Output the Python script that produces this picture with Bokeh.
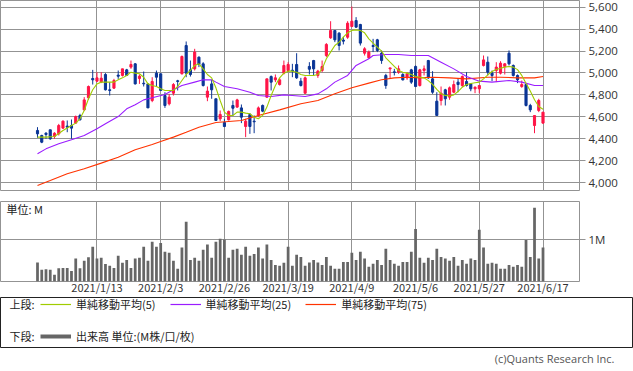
from bokeh.plotting import figure
from bokeh.layouts import column
from bokeh.models import (Range1d, LinearAxis, FixedTicker, Grid, NumeralTickFormatter,
                          Label, Legend, LegendItem, ColumnDataSource, Title)
from bokeh.embed import file_html
from bokeh.resources import INLINE

# ---------------- data ----------------
tick_idx = [14, 29, 44, 59, 74, 89, 104, 119]
tick_labels = ["2021/1/13", "2021/2/3", "2021/2/26", "2021/3/19",
               "2021/4/9", "2021/5/6", "2021/5/27", "2021/6/17"]
price_ticks = [4000, 4200, 4400, 4600, 4800, 5000, 5200, 5400, 5600]

opens = [4475, 4429, 4450, 4481, 4420, 4444, 4496, 4515, 4520, 4542,
         4611, 4663, 4773, 4949, 4925, 4916, 4986, 4846, 4861, 4980,
         4977, 5028, 5053, 5083, 4949, 4906, 4900, 4748, 4998, 4992,
         4794, 4718, 4815, 4928, 4992, 5250, 5028, 5037, 5144, 5083,
         4779, 4900, 4764, 4581, 4548, 4572, 4703, 4688, 4681, 4511,
         4621, 4560, 4612, 4703, 4779, 4967, 4937, 4894, 4998, 5022,
         5025, 5077, 4925, 4815, 5059, 5113, 4977, 5022, 5159, 5320,
         5387, 5363, 5300, 5326, 5424, 5478, 5442, 5180, 5138, 5250,
         5302, 5180, 4977, 5037, 5010, 5007, 4986, 4955, 5028, 5059,
         4885, 5022, 5113, 4946, 4742, 4748, 4846, 4779, 4824, 4916,
         4885, 4922, 4900, 4855, 4855, 5068, 5098, 4998, 5022, 4998,
         5059, 5180, 5068, 4977, 4876, 4894, 4703, 4520, 4657, 4542]
highs = [4505, 4436, 4459, 4481, 4459, 4535, 4566, 4566, 4575, 4611,
         4627, 4779, 4885, 5028, 5007, 5007, 4998, 4916, 4946, 5022,
         5037, 5037, 5113, 5089, 4986, 5013, 4900, 4961, 5022, 4992,
         4824, 4809, 4907, 4937, 5159, 5287, 5113, 5220, 5150, 5098,
         4876, 4937, 4764, 4657, 4581, 4657, 4748, 4764, 4712, 4581,
         4633, 4612, 4694, 4712, 4946, 4977, 4986, 4955, 5113, 5098,
         5083, 5180, 4955, 4967, 5098, 5119, 5028, 5113, 5272, 5472,
         5387, 5372, 5330, 5472, 5606, 5509, 5448, 5235, 5205, 5311,
         5311, 5205, 4992, 5046, 5037, 5068, 4998, 5007, 5037, 5068,
         5037, 5068, 5119, 5016, 4824, 4876, 4855, 4876, 4931, 4946,
         4977, 5007, 4907, 4876, 4885, 5159, 5150, 5022, 5098, 5107,
         5089, 5205, 5077, 4986, 4931, 4900, 4718, 4611, 4764, 4642]
lows = [4408, 4359, 4399, 4390, 4399, 4429, 4490, 4459, 4399, 4535,
        4566, 4657, 4754, 4894, 4916, 4907, 4840, 4794, 4855, 4946,
        4967, 4977, 5037, 4894, 4900, 4876, 4681, 4733, 4876, 4840,
        4681, 4703, 4794, 4840, 4986, 4961, 4967, 5022, 5053, 4876,
        4742, 4764, 4566, 4560, 4505, 4566, 4611, 4681, 4542, 4414,
        4444, 4450, 4596, 4642, 4773, 4840, 4916, 4885, 4986, 5007,
        4961, 4946, 4876, 4809, 4986, 4977, 4955, 5007, 5144, 5311,
        5281, 5205, 5260, 5311, 5418, 5412, 5250, 5159, 5129, 5190,
        5190, 5083, 4855, 4946, 4977, 4992, 4931, 4937, 4900, 4870,
        4876, 4977, 4946, 4809, 4612, 4703, 4703, 4755, 4815, 4824,
        4870, 4876, 4833, 4815, 4815, 5059, 4977, 4925, 4916, 4986,
        4986, 5068, 4967, 4907, 4864, 4694, 4642, 4450, 4642, 4535]
closes = [4444, 4368, 4438, 4399, 4450, 4520, 4560, 4505, 4496, 4602,
          4572, 4754, 4876, 4937, 4955, 4952, 4846, 4840, 4931, 4970,
          5037, 4977, 5077, 4900, 4970, 4900, 4681, 4922, 4961, 4840,
          4703, 4779, 4894, 4922, 5150, 4998, 4986, 5190, 5077, 4885,
          4834, 4846, 4566, 4621, 4511, 4648, 4678, 4754, 4596, 4560,
          4511, 4554, 4681, 4651, 4946, 4916, 4955, 4937, 5068, 5077,
          5019, 4955, 4885, 4955, 5034, 5037, 5016, 5059, 5260, 5387,
          5302, 5250, 5290, 5454, 5472, 5418, 5272, 5220, 5190, 5241,
          5205, 5113, 4885, 5046, 5004, 5037, 4937, 4992, 4916, 4876,
          5028, 5037, 4955, 4824, 4612, 4815, 4764, 4864, 4894, 4894,
          4967, 4885, 4855, 4870, 4885, 5119, 5007, 4977, 5053, 5089,
          5083, 5083, 4977, 4937, 4894, 4703, 4663, 4611, 4748, 4642]
volume_m = [0.45, 0.28, 0.29, 0.28, 0.16, 0.31, 0.32, 0.32, 0.25, 0.54,
            0.31, 0.49, 0.57, 0.82, 0.54, 0.56, 0.41, 0.37, 0.32, 0.61,
            0.44, 0.51, 0.32, 0.54, 0.56, 0.82, 0.49, 0.94, 0.82, 0.91,
            0.70, 0.68, 0.49, 0.30, 0.80, 1.41, 0.51, 0.56, 0.49, 0.75,
            0.87, 0.56, 0.94, 1.01, 0.99, 0.56, 0.75, 0.77, 0.63, 0.82,
            0.61, 0.65, 0.80, 0.54, 0.87, 0.51, 0.39, 0.37, 0.44, 0.82,
            0.37, 0.63, 0.58, 0.37, 0.45, 0.51, 0.45, 0.39, 0.58, 0.37,
            0.30, 0.30, 0.46, 0.46, 0.68, 0.51, 0.70, 0.54, 0.35, 0.42,
            0.51, 0.39, 0.77, 0.51, 0.42, 0.37, 0.46, 0.46, 0.70, 1.24,
            0.56, 0.44, 0.56, 0.51, 0.77, 0.58, 0.54, 0.49, 0.58, 0.37,
            0.51, 0.42, 0.54, 0.51, 1.22, 0.80, 0.42, 0.44, 0.42, 0.30,
            0.30, 0.39, 0.35, 0.39, 0.35, 0.98, 0.58, 1.74, 0.54, 0.80]

ma5_x = [0, 2, 4, 6, 8, 9, 10, 11, 12, 13, 14, 15, 16, 18, 19, 20, 21, 22, 23, 24,
         25, 26, 27, 28, 29, 30, 31, 32, 33, 34, 35, 36, 37, 38, 39, 40, 41, 42, 43, 44,
         45, 46, 47, 48, 49, 50, 51, 52, 53, 54, 55, 56, 57, 58, 59, 60, 61, 62, 63, 64,
         65, 66, 67, 68, 69, 70, 71, 72, 73, 74, 75, 76, 77, 78, 79, 80, 81, 82, 83, 84,
         85, 86, 87, 88, 89, 90, 91, 92, 93, 94, 95, 96, 97, 98, 99, 100, 101, 102, 103,
         104, 105, 106, 107, 108, 109, 110, 111, 112, 113, 114, 115, 116, 117, 118, 119]
ma5_y = [4414, 4414, 4420, 4475, 4520, 4542, 4581, 4657, 4764, 4846, 4900, 4916, 4916,
         4916, 4937, 4955, 4977, 5007, 4998, 4992, 4961, 4900, 4885, 4876, 4855, 4840,
         4840, 4840, 4876, 4931, 4986, 5022, 5068, 5083, 5037, 4986, 4955, 4864, 4748,
         4642, 4612, 4612, 4642, 4642, 4633, 4627, 4596, 4581, 4612, 4688, 4794, 4885,
         4955, 4998, 5016, 5016, 5007, 4986, 4977, 4977, 4977, 4986, 5037, 5129, 5190,
         5250, 5281, 5326, 5366, 5387, 5393, 5387, 5366, 5311, 5272, 5235, 5199, 5138,
         5098, 5059, 5022, 5007, 4998, 4986, 4967, 4961, 4955, 4930, 4895, 4850, 4810,
         4795, 4790, 4800, 4830, 4870, 4894, 4904, 4910, 4916, 4946, 4983, 5013, 5031,
         5043, 5053, 5059, 5053, 5030, 4977, 4905, 4835, 4755, 4694, 4668]

ma25_x = [0, 2, 5, 8, 11, 14, 16, 19, 21, 23, 25, 27, 30, 32, 34, 37, 39, 41, 42, 44,
          47, 50, 52, 55, 58, 60, 63, 66, 68, 70, 73, 75, 78, 79, 82, 85, 88, 90, 92,
          95, 98, 101, 104, 107, 111, 114, 117, 119]
ma25_y = [4262, 4307, 4353, 4390, 4429, 4490, 4536, 4602, 4672, 4710, 4754, 4773, 4803,
          4846, 4885, 4916, 4937, 4937, 4916, 4876, 4855, 4824, 4794, 4785, 4800, 4794,
          4785, 4809, 4855, 4916, 4977, 5068, 5129, 5159, 5168, 5168, 5159, 5159, 5159,
          5098, 5037, 4967, 4925, 4916, 4931, 4916, 4885, 4885]

ma75_x = [0, 3, 7, 11, 15, 19, 23, 27, 29, 32, 35, 38, 42, 48, 52, 57, 62, 66, 70, 74,
          78, 81, 84, 87, 90, 93, 97, 101, 106, 109, 113, 117, 119]
ma75_y = [3973, 4018, 4079, 4125, 4177, 4231, 4298, 4347, 4374, 4414, 4459, 4505, 4548,
          4566, 4612, 4663, 4718, 4748, 4809, 4864, 4907, 4937, 4955, 4961, 4955, 4961,
          4955, 4946, 4961, 4961, 4955, 4955, 4967]

# ---------------- styles ----------------
RED = "#ff1446"
BLUE = "#0a3595"
GRID = "#939393"
C5, C25, C75, CV = "#a0cc00", "#9a1cff", "#ff3300", "#666666"
NUM_FONT = "Open Sans"
JP_FONT = "Noto Sans CJK JP"

idx = list(range(len(closes)))
cols = [RED if c >= o else BLUE for o, c in zip(opens, closes)]
src = ColumnDataSource(dict(
    x=idx, high=highs, low=lows,
    top=[max(o, c) for o, c in zip(opens, closes)],
    bottom=[min(o, c) for o, c in zip(opens, closes)],
    color=cols))

x_rng = Range1d(-8.71, 127.59)


def strip_grids(p):
    p.center = [r for r in p.center if not isinstance(r, Grid)]


def right_axis(ticks, **kw):
    return LinearAxis(ticker=FixedTicker(ticks=ticks), axis_line_color=None,
                      major_tick_line_color=GRID, major_tick_out=6, major_tick_in=0,
                      minor_tick_line_color=None, major_label_standoff=3,
                      major_label_text_font=NUM_FONT, major_label_text_font_size="11.5px",
                      major_label_text_color="#333333", **kw)


# ---------------- price panel ----------------
p1 = figure(frame_width=579, frame_height=190, x_range=x_rng, y_range=Range1d(3927, 5661),
            output_backend="svg", toolbar_location=None,
            x_axis_location=None, y_axis_location=None,
            min_border_left=0, min_border_right=54, min_border_top=0, min_border_bottom=11)
strip_grids(p1)
p1.outline_line_color = GRID
p1.add_layout(Grid(dimension=0, ticker=FixedTicker(ticks=tick_idx), grid_line_color=GRID))
p1.add_layout(Grid(dimension=1, ticker=FixedTicker(ticks=price_ticks), grid_line_color=GRID))
p1.add_layout(right_axis(price_ticks, formatter=NumeralTickFormatter(format="0,0")), "right")

p1.segment(x0="x", y0="low", x1="x", y1="high", line_color="color", line_width=1, source=src)
p1.vbar(x="x", width=0.5, top="top", bottom="bottom", fill_color="color",
        line_color="color", line_width=1, source=src)
p1.line(ma75_x, ma75_y, line_color=C75, line_width=1.1)
p1.line(ma25_x, ma25_y, line_color=C25, line_width=1.1)
p1.line(ma5_x, ma5_y, line_color=C5, line_width=1.1)

# ---------------- volume panel ----------------
p2 = figure(frame_width=579, frame_height=80, x_range=x_rng, y_range=Range1d(0, 1.887),
            output_backend="svg", toolbar_location=None,
            x_axis_location=None, y_axis_location=None,
            min_border_left=0, min_border_right=54, min_border_top=0, min_border_bottom=0)
strip_grids(p2)
p2.outline_line_color = GRID
p2.add_layout(Grid(dimension=0, ticker=FixedTicker(ticks=tick_idx), grid_line_color=GRID))
p2.add_layout(Grid(dimension=1, ticker=FixedTicker(ticks=[1.0]), grid_line_color=GRID))
p2.add_layout(right_axis([1.0], major_label_overrides={1.0: "1M"}), "right")
ax_x = LinearAxis(ticker=FixedTicker(ticks=tick_idx),
                  major_label_overrides=dict(zip(tick_idx, tick_labels)),
                  axis_line_color=None, major_tick_line_color=None, minor_tick_line_color=None,
                  major_tick_out=0, major_tick_in=0,
                  major_label_standoff=-3, major_label_text_font=JP_FONT,
                  major_label_text_font_size="11px", major_label_text_color="#333333")
p2.add_layout(ax_x, "below")
p2.vbar(x=idx, top=volume_m, width=0.65, fill_color=CV, line_color=None)
p2.add_layout(Label(x=6, y=73, x_units="screen", y_units="screen", text="単位: M",
                    text_font=JP_FONT, text_font_size="11px", text_color="#222222",
                    text_baseline="middle"))

# ---------------- legend panel ----------------
p3 = figure(frame_width=632, frame_height=50, x_range=Range1d(-2, -1), y_range=Range1d(-2, -1),
            output_backend="svg", toolbar_location=None,
            x_axis_location=None, y_axis_location=None,
            min_border_left=0, min_border_right=1, min_border_top=0, min_border_bottom=0)
strip_grids(p3)
p3.outline_line_color = "#222222"
# legend proxies (series lie outside this panel's ranges, so only their legend samples show)
r5 = p3.line(ma5_x, ma5_y, line_color=C5, line_width=1.2)
r25 = p3.line(ma25_x, ma25_y, line_color=C25, line_width=1.2)
r75 = p3.line(ma75_x, ma75_y, line_color=C75, line_width=1.2)
rv = p3.line(idx, volume_m, line_color=CV, line_width=4)

leg_common = dict(orientation="horizontal", glyph_width=31, glyph_height=12,
                  label_standoff=5, label_height=16, label_text_font=JP_FONT,
                  label_text_font_size="11px", label_text_color="#222222",
                  padding=0, margin=0, spacing=14, border_line_color=None,
                  background_fill_alpha=0)
legA = Legend(items=[LegendItem(label="単純移動平均(5)", renderers=[r5]),
                     LegendItem(label="単純移動平均(25)", renderers=[r25]),
                     LegendItem(label="単純移動平均(75)", renderers=[r75])],
              location=(40, 35), **leg_common)
legB = Legend(items=[LegendItem(label="出来高 単位:(M株/口/枚)", renderers=[rv])],
              location=(40, 3), **leg_common)
p3.add_layout(legA)
p3.add_layout(legB)
for txt, yy in (("上段:", 44), ("下段:", 12)):
    p3.add_layout(Label(x=9, y=yy, x_units="screen", y_units="screen", text=txt,
                        text_font=JP_FONT, text_font_size="11px", text_color="#222222",
                        text_baseline="middle"))
p3.add_layout(Title(text="(c)Quants Research Inc.", align="right", offset=18, standoff=3,
                    text_font=NUM_FONT, text_font_size="11px", text_color="#555555",
                    text_font_style="normal"), "below")

layout = column(p1, p2, p3, spacing=0)

open("out.html", "w").write(file_html(layout, INLINE))
